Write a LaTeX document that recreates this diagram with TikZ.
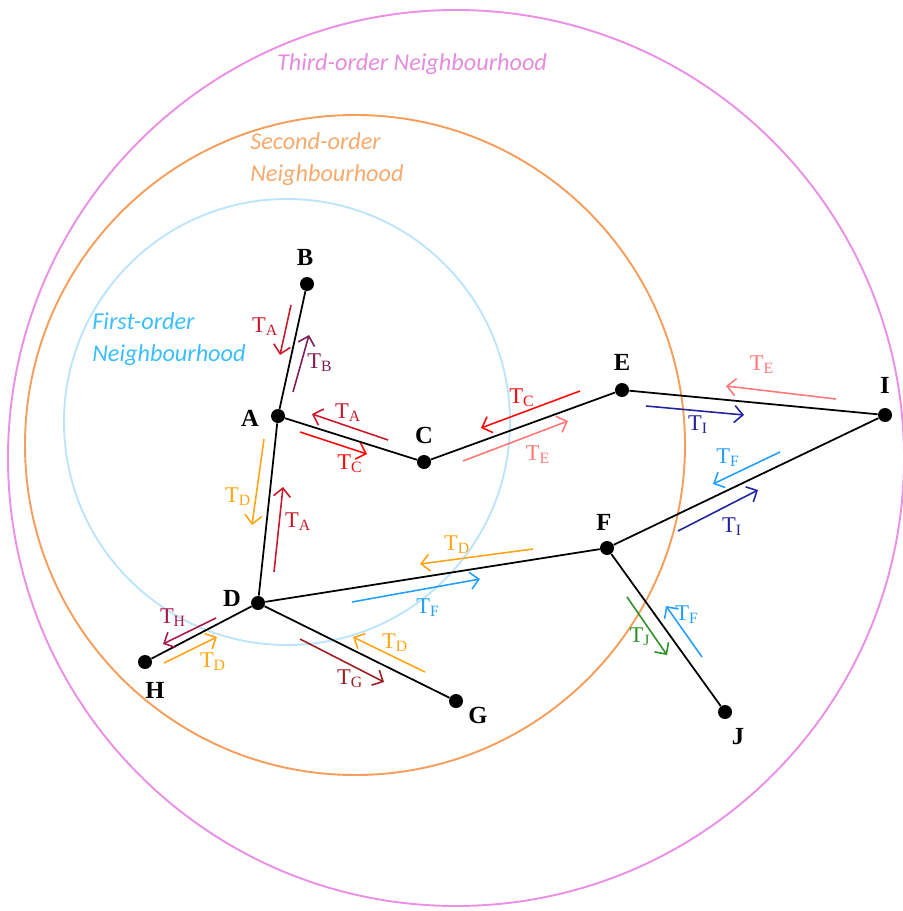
\documentclass[tikz,border=0pt]{standalone}
\usepackage{fontspec}
\setmainfont{Liberation Serif}
\newfontfamily\hoodfont{Carlito}
\usetikzlibrary{arrows.meta}
\definecolor{hoodpink}{RGB}{234,145,230}
\definecolor{hoodorange}{RGB}{246,158,92}
\definecolor{hoodblue}{RGB}{190,228,252}
\definecolor{pinktext}{RGB}{228,140,222}
\definecolor{orangetext}{RGB}{246,170,110}
\definecolor{bluetext}{RGB}{60,190,250}
\definecolor{cA}{RGB}{200,25,45}
\definecolor{cB}{RGB}{125,30,85}
\definecolor{cC}{RGB}{255,10,10}
\definecolor{cE}{RGB}{255,120,120}
\definecolor{cI}{RGB}{35,35,155}
\definecolor{cF}{RGB}{35,160,250}
\definecolor{cD}{RGB}{255,165,20}
\definecolor{cH}{RGB}{170,25,75}
\definecolor{cG}{RGB}{155,30,35}
\definecolor{cJ}{RGB}{45,145,40}
\newcommand{\Tx}[1]{T\textsubscript{#1}}
\tikzset{
  vtx/.style={circle, fill=black, inner sep=0pt, minimum size=0.28cm},
  vlab/.style={font=\fontsize{14}{16}\selectfont\bfseries},
  tlab/.style={font=\fontsize{12.8}{14}\selectfont, inner sep=0pt},
  flow/.style={-{Straight Barb[length=1.7mm,width=3.4mm]}, line width=0.9pt},
  hood/.style={font=\fontsize{13.8}{18.5}\selectfont\hoodfont\itshape, align=left, inner sep=0pt},
  link/.style={line width=1pt}
}

\begin{document}
\begin{tikzpicture}
\useasboundingbox (0,0) rectangle (18.04,-18.22);
% neighbourhoods
\draw[hoodpink, line width=1.1pt] (9.12,-9.16) circle (8.96);
\draw[hoodorange, line width=1.1pt] (7.10,-8.90) circle (6.60);
\draw[hoodblue, line width=1.1pt] (5.74,-8.44) circle (4.46);
\node[hood, text=pinktext] at (8.24,-1.28) (third) {Third-order Neighbourhood};
\node[hood, text=orangetext, anchor=west] at (5.00,-3.18) (second) {Second-order\\Neighbourhood};
\node[hood, text=bluetext, anchor=west] at (1.84,-6.78) (first) {First-order\\Neighbourhood};

% vertices
\node[vtx] at (6.14,-5.68) (B) {};
\node[vtx] at (5.56,-8.32) (A) {};
\node[vtx] at (8.48,-9.24) (C) {};
\node[vtx] at (12.44,-7.80) (E) {};
\node[vtx] at (17.70,-8.30) (I) {};
\node[vtx] at (12.14,-10.96) (F) {};
\node[vtx] at (5.16,-12.06) (D) {};
\node[vtx] at (2.90,-13.24) (H) {};
\node[vtx] at (9.12,-14.02) (G) {};
\node[vtx] at (14.50,-14.24) (J) {};
\node[vlab] at (6.10,-5.14) (lB) {B};
\node[vlab] at (5.00,-8.36) (lA) {A};
\node[vlab] at (8.48,-8.70) (lC) {C};
\node[vlab] at (12.44,-7.24) (lE) {E};
\node[vlab] at (17.70,-7.70) (lI) {I};
\node[vlab] at (12.08,-10.44) (lF) {F};
\node[vlab] at (4.64,-11.96) (lD) {D};
\node[vlab] at (3.10,-13.80) (lH) {H};
\node[vlab] at (9.56,-14.30) (lG) {G};
\node[vlab] at (14.76,-14.74) (lJ) {J};

% links
\draw[link] (B) -- (A);
\draw[link] (A) -- (C);
\draw[link] (C) -- (E);
\draw[link] (E) -- (I);
\draw[link] (I) -- (F);
\draw[link] (F) -- (D);
\draw[link] (A) -- (D);
\draw[link] (D) -- (H);
\draw[link] (D) -- (G);
\draw[link] (F) -- (J);

% messages
\coordinate (ba1) at (5.82,-6.10); \coordinate (ba2) at (5.60,-7.10);
\draw[flow, cA] (ba1) -- (ba2); \node[tlab, text=cA] at (5.30,-6.54) (mba) {\Tx{A}};
\coordinate (ab1) at (5.86,-7.84); \coordinate (ab2) at (6.18,-6.70);
\draw[flow, cB] (ab1) -- (ab2); \node[tlab, text=cB] at (6.40,-7.26) (mab) {\Tx{B}};
\coordinate (ca1) at (7.76,-8.80); \coordinate (ca2) at (6.24,-8.28);
\draw[flow, cA] (ca1) -- (ca2); \node[tlab, text=cA] at (6.96,-8.26) (mca) {\Tx{A}};
\coordinate (ac1) at (6.00,-8.64); \coordinate (ac2) at (7.34,-9.08);
\draw[flow, cC] (ac1) -- (ac2); \node[tlab, text=cC] at (7.00,-9.28) (mac) {\Tx{C}};
\coordinate (ec1) at (11.60,-7.82); \coordinate (ec2) at (9.62,-8.56);
\draw[flow, cC] (ec1) -- (ec2); \node[tlab, text=cC] at (10.44,-7.96) (mec) {\Tx{C}};
\coordinate (ce1) at (9.26,-9.22); \coordinate (ce2) at (11.36,-8.42);
\draw[flow, cE] (ce1) -- (ce2); \node[tlab, text=cE] at (10.76,-9.10) (mce) {\Tx{E}};
\coordinate (ie1) at (16.72,-7.98); \coordinate (ie2) at (14.52,-7.72);
\draw[flow, cE] (ie1) -- (ie2); \node[tlab, text=cE] at (15.24,-7.30) (mie) {\Tx{E}};
\coordinate (ei1) at (12.92,-8.12); \coordinate (ei2) at (14.88,-8.30);
\draw[flow, cI] (ei1) -- (ei2); \node[tlab, text=cI] at (13.96,-8.50) (mei) {\Tx{I}};
\coordinate (if1) at (15.60,-9.04); \coordinate (if2) at (14.26,-9.68);
\draw[flow, cF] (if1) -- (if2); \node[tlab, text=cF] at (14.56,-9.16) (mif) {\Tx{F}};
\coordinate (fi1) at (13.56,-10.62); \coordinate (fi2) at (15.16,-9.80);
\draw[flow, cI] (fi1) -- (fi2); \node[tlab, text=cI] at (14.64,-10.54) (mfi) {\Tx{I}};
\coordinate (ad1) at (5.28,-8.78); \coordinate (ad2) at (5.04,-10.50);
\draw[flow, cD] (ad1) -- (ad2); \node[tlab, text=cD] at (4.76,-9.94) (mad) {\Tx{D}};
\coordinate (da1) at (5.48,-11.44); \coordinate (da2) at (5.66,-9.74);
\draw[flow, cA] (da1) -- (da2); \node[tlab, text=cA] at (5.96,-10.44) (mda) {\Tx{A}};
\coordinate (fd1) at (10.66,-10.98); \coordinate (fd2) at (8.40,-11.28);
\draw[flow, cD] (fd1) -- (fd2); \node[tlab, text=cD] at (9.14,-10.90) (mfd) {\Tx{D}};
\coordinate (df1) at (7.04,-12.04); \coordinate (df2) at (9.60,-11.58);
\draw[flow, cF] (df1) -- (df2); \node[tlab, text=cF] at (8.56,-12.16) (mdf) {\Tx{F}};
\coordinate (dh1) at (4.32,-12.36); \coordinate (dh2) at (3.26,-12.88);
\draw[flow, cH] (dh1) -- (dh2); \node[tlab, text=cH] at (3.46,-12.36) (mdh) {\Tx{H}};
\coordinate (hd1) at (3.28,-13.26); \coordinate (hd2) at (4.34,-12.74);
\draw[flow, cD] (hd1) -- (hd2); \node[tlab, text=cD] at (4.26,-13.24) (mhd) {\Tx{D}};
\coordinate (dg1) at (6.00,-12.78); \coordinate (dg2) at (7.68,-13.64);
\draw[flow, cG] (dg1) -- (dg2); \node[tlab, text=cG] at (7.00,-13.58) (mdg) {\Tx{G}};
\coordinate (gd1) at (8.50,-13.44); \coordinate (gd2) at (7.06,-12.74);
\draw[flow, cD] (gd1) -- (gd2); \node[tlab, text=cD] at (7.90,-12.86) (mgd) {\Tx{D}};
\coordinate (fj1) at (12.54,-11.94); \coordinate (fj2) at (13.34,-13.10);
\draw[flow, cJ] (fj1) -- (fj2); \node[tlab, text=cJ] at (12.80,-12.74) (mfj) {\Tx{J}};
\coordinate (jf1) at (14.04,-13.14); \coordinate (jf2) at (13.32,-12.12);
\draw[flow, cF] (jf1) -- (jf2); \node[tlab, text=cF] at (13.74,-12.30) (mjf) {\Tx{F}};
\end{tikzpicture}
\end{document}
